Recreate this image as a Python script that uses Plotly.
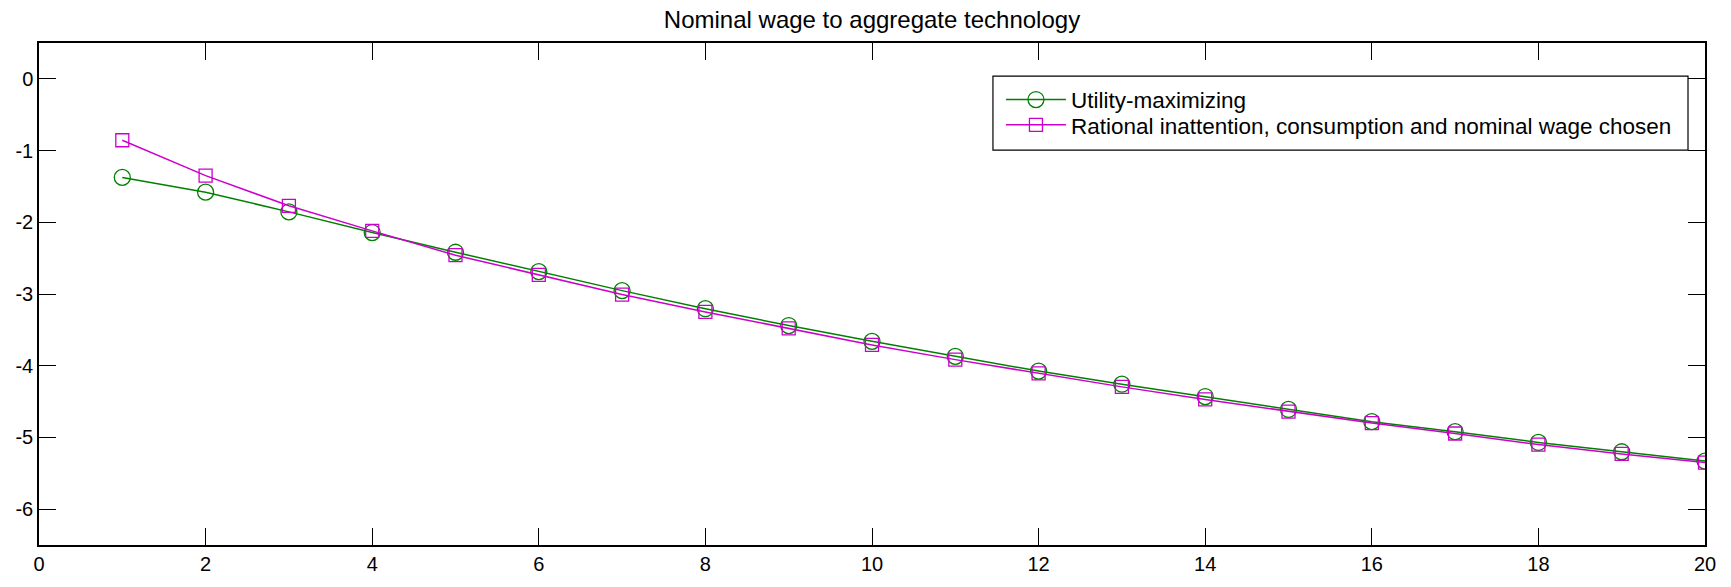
import plotly.graph_objects as go

horizon = list(range(1, 21))
utility_max = [-1.374, -1.58, -1.855, -2.143, -2.418, -2.688, -2.953, -3.205, -3.44, -3.66,
               -3.87, -4.075, -4.258, -4.43, -4.61, -4.78, -4.92, -5.07, -5.20, -5.33]
rational_inatt = [-0.856, -1.35, -1.77, -2.12, -2.459, -2.734, -3.008, -3.25, -3.48, -3.71,
                  -3.915, -4.107, -4.295, -4.47, -4.64, -4.80, -4.945, -5.10, -5.23, -5.35]

x_ticks = list(range(0, 21, 2))
y_ticks = list(range(-6, 1))

FONT = "Liberation Sans, Arial, sans-serif"
GREEN = "#008000"
MAGENTA = "#cc00cc"

fig = go.Figure()
fig.add_trace(go.Scatter(
    x=horizon, y=utility_max, mode="lines+markers", name="Utility-maximizing",
    line=dict(color=GREEN, width=1.5), legend="legend",
    marker=dict(symbol="circle-open", size=16, color=GREEN, line=dict(width=1.3, color=GREEN)),
))
fig.add_trace(go.Scatter(
    x=horizon, y=rational_inatt, mode="lines+markers",
    name="Rational inattention, consumption and nominal wage chosen",
    line=dict(color=MAGENTA, width=1.5), legend="legend2",
    marker=dict(symbol="square-open", size=13, color=MAGENTA, line=dict(width=1.3, color=MAGENTA)),
))

axis_common = dict(
    showgrid=False, zeroline=False, showline=True, linecolor="black", linewidth=1.5,
    mirror="allticks", ticks="inside", ticklen=17, tickwidth=1, tickcolor="black",
    tickfont=dict(family=FONT, size=20, color="black"),
)
fig.update_xaxes(range=[0, 20], tickvals=x_ticks, ticktext=[str(v) for v in x_ticks], **axis_common)
fig.update_yaxes(range=[-6.5, 0.5], tickvals=y_ticks, ticktext=[str(v) for v in y_ticks], **axis_common)

# legend frame (paper coords)
LX0, LX1, LY0, LY1 = 0.5726, 0.9898, 0.7865, 0.934
fig.add_shape(type="rect", xref="paper", yref="paper", x0=LX0, x1=LX1, y0=LY0, y1=LY1,
              line=dict(color="black", width=1.2), fillcolor="white", layer="above")

legend_common = dict(x=LX0 + 0.0048, xanchor="left", yanchor="middle",
                     bgcolor="rgba(0,0,0,0)", borderwidth=0,
                     font=dict(family=FONT, size=22.5, color="black"),
                     itemwidth=60)

fig.update_layout(
    width=1731, height=587,
    margin=dict(l=39, r=26, t=43, b=35),
    paper_bgcolor="white", plot_bgcolor="white",
    title=dict(text="Nominal wage to aggregate technology", x=0.5, xref="paper",
               y=1 - 20 / 587, yref="container", yanchor="middle",
               font=dict(family=FONT, size=24, color="black")),
    legend=dict(y=0.8866, **legend_common),
    legend2=dict(y=0.8362, **legend_common),
    showlegend=True,
)

fig.write_html("out.html", config={"displayModeBar": False},
               post_script="document.body.style.margin='0';document.body.style.overflow='hidden';")
